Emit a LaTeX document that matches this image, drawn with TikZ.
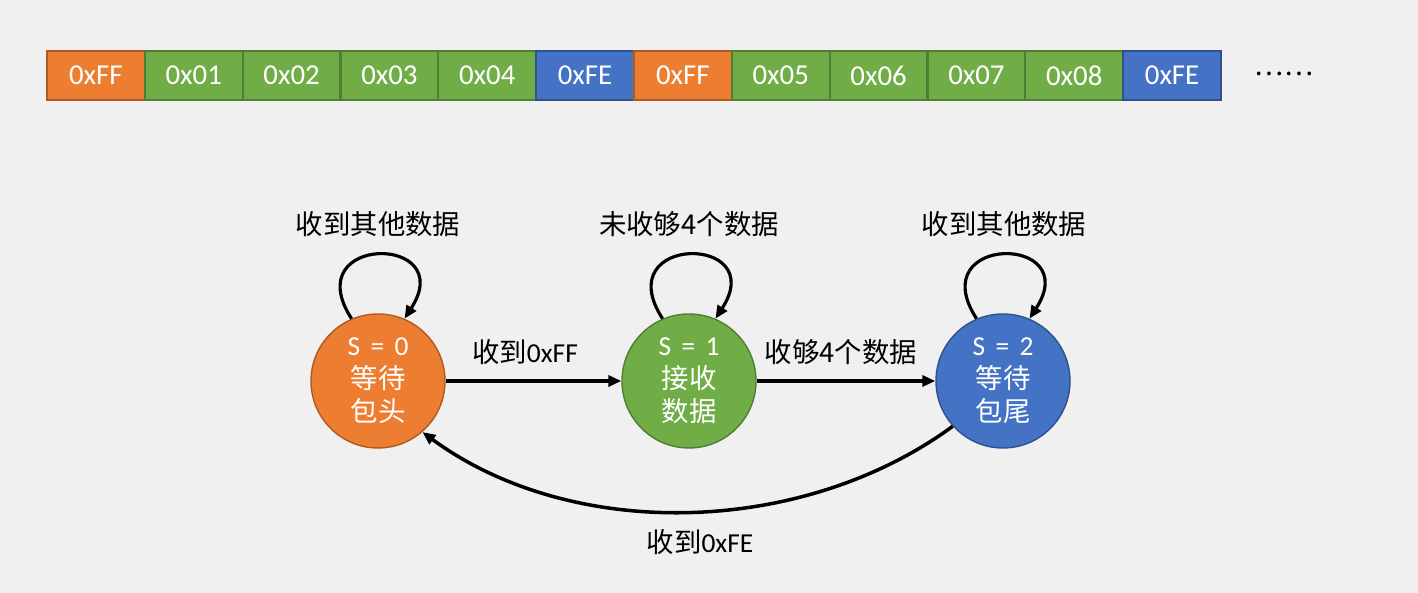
\documentclass[tikz,border=0pt]{standalone}
\usepackage{fontspec}
\setmainfont{Carlito}
\newfontfamily\cjk{Noto Sans CJK SC}
\usepackage{xcolor}
\usetikzlibrary{arrows.meta, positioning, calc}
\definecolor{bgray}{RGB}{240, 240, 240}
\definecolor{headorange}{RGB}{237, 125, 49}
\definecolor{headorangeline}{RGB}{174, 90, 33}
\definecolor{datagreen}{RGB}{112, 173, 71}
\definecolor{datagreenline}{RGB}{80, 126, 50}
\definecolor{tailblue}{RGB}{68, 114, 196}
\definecolor{tailblueline}{RGB}{47, 82, 143}

\begin{document}
\begin{tikzpicture}[
    font=\fontsize{15.6}{18.8}\selectfont,
    byte/.style={draw, line width=1.2pt, minimum width=1.9567cm, minimum height=0.98cm, inner sep=0pt, text=white, font=\fontsize{16.4}{18.8}\selectfont},
    bhead/.style={byte, fill=headorange, draw=headorangeline},
    bdata/.style={byte, fill=datagreen, draw=datagreenline},
    btail/.style={byte, fill=tailblue, draw=tailblueline},
    state/.style={draw, circle, line width=0.8pt, minimum size=2.68cm, inner sep=0pt, align=center, text=white},
    arr/.style={-{Triangle[length=2.6mm, width=2.2mm]}, line width=2pt},
    lbl/.style={font=\fontsize{15.6}{18.8}\selectfont},
]
\fill[bgray] (0,0) rectangle (28.36,11.86);
\useasboundingbox (0,0) rectangle (28.36,11.86);

% --- byte stream ---
\foreach \lab/\sty [count=\i from 0] in {0xFF/bhead, 0x01/bdata, 0x02/bdata, 0x03/bdata, 0x04/bdata, 0xFE/btail,
                                         0xFF/bhead, 0x05/bdata, 0x06/bdata, 0x07/bdata, 0x08/bdata, 0xFE/btail}
    \node[\sty] (b\i) at ({1.918+1.9567*\i}, 10.35) {\lab};
\node[lbl] (more) at (25.68, 10.38) {\cjk ……};

% --- states ---
\node[state, fill=headorange, draw=headorangeline] (s0) at (7.56, 4.24) {S\hspace{0.38em}=\hspace{0.38em}0\\\cjk 等待\\\cjk 包头};
\node[state, fill=datagreen, draw=datagreenline] (s1) at (13.78, 4.24) {S\hspace{0.38em}=\hspace{0.38em}1\\\cjk 接收\\\cjk 数据};
\node[state, fill=tailblue, draw=tailblueline] (s2) at (20.06, 4.24) {S\hspace{0.38em}=\hspace{0.38em}2\\\cjk 等待\\\cjk 包尾};

% --- self loops ---
\draw[arr, line width=1.8pt] (s0.113) .. controls +(-1.1,1.7) and +(1.1,1.7) .. (s0.67);
\draw[arr, line width=1.8pt] (s1.113) .. controls +(-1.1,1.7) and +(1.1,1.7) .. (s1.67);
\draw[arr, line width=1.8pt] (s2.113) .. controls +(-1.1,1.7) and +(1.1,1.7) .. (s2.67);
\node[lbl] (l0) at (7.56, 7.38) {\cjk 收到其他数据};
\node[lbl] (l1) at (13.78, 7.38) {\cjk 未收够4个数据};
\node[lbl] (l2) at (20.08, 7.38) {\cjk 收到其他数据};

% --- transitions ---
\draw[arr] (s0) -- (s1);
\node[lbl] (t01) at (10.5, 4.82) {{\cjk 收到}0xFF};
\draw[arr] (s1) -- (s2);
\node[lbl] (t12) at (16.82, 4.82) {{\cjk 收够4个数据}};
\draw[arr] (s2.222) .. controls +(-3.0,-2.2) and +(3.0,-2.2) .. (s0.311);
\node[lbl] (t20) at (14.0, 1.02) {{\cjk 收到}0xFE};

\end{tikzpicture}
\end{document}
